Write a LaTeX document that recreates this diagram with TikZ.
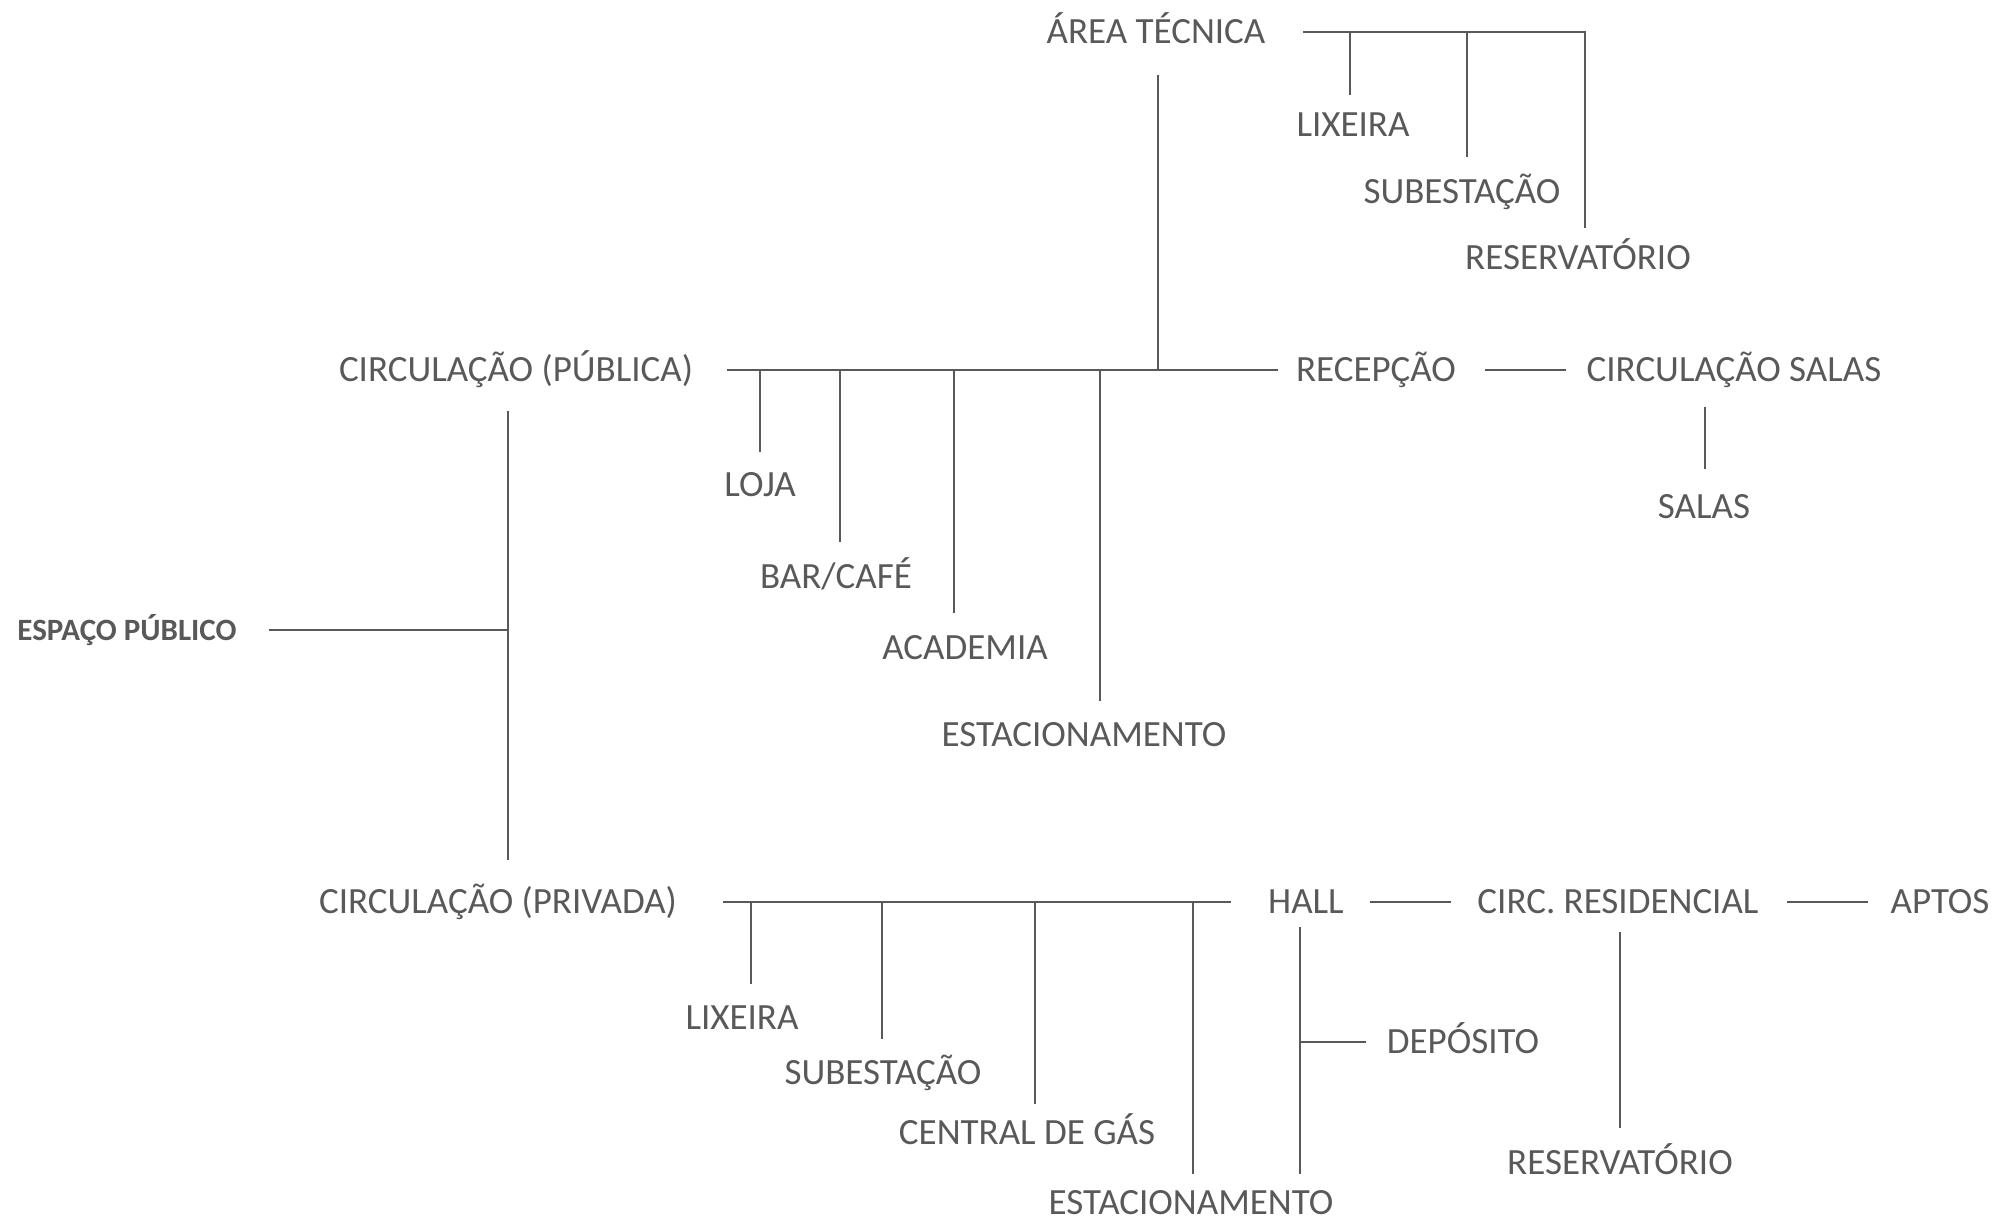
\documentclass[tikz,border=0pt]{standalone}
\usepackage{fontspec}
\setmainfont{Carlito}
\definecolor{ink}{RGB}{89,89,89}
\begin{document}
\begin{tikzpicture}[x=1pt,y=-1pt,
  lbl/.style={anchor=base,inner sep=0pt,text=ink,font=\fontsize{37}{40}\selectfont},
  lblb/.style={anchor=base,inner sep=0pt,text=ink,font=\fontsize{31}{36}\selectfont\bfseries},
  conn/.style={draw=ink,line width=2.2pt}]
\useasboundingbox (0,0) rectangle (1995,1219);
% labels (baseline = cap middle + 11)
\node[lbl] (areatec) at (1156,43) {ÁREA TÉCNICA};
\node[lbl] (lix1) at (1353,136) {LIXEIRA};
\node[lbl] (sub1) at (1462,203) {SUBESTAÇÃO};
\node[lbl] (res1) at (1578,269) {RESERVATÓRIO};
\node[lbl] (circpub) at (516,381) {CIRCULAÇÃO (PÚBLICA)};
\node[lbl] (loja) at (760,496) {LOJA};
\node[lbl] (bar) at (836,588) {BAR/CAFÉ};
\node[lbl] (acad) at (965,659) {ACADEMIA};
\node[lbl] (est1) at (1084,746) {ESTACIONAMENTO};
\node[lbl] (recep) at (1376,381) {RECEPÇÃO};
\node[lbl] (circsalas) at (1734,381) {CIRCULAÇÃO SALAS};
\node[lbl] (salas) at (1704,518) {SALAS};
\node[lblb] (espaco) at (127,640) {ESPAÇO PÚBLICO};
\node[lbl] (circpriv) at (498,913) {CIRCULAÇÃO (PRIVADA)};
\node[lbl] (lix2) at (742,1029) {LIXEIRA};
\node[lbl] (sub2) at (883,1084) {SUBESTAÇÃO};
\node[lbl] (gas) at (1027,1144) {CENTRAL DE GÁS};
\node[lbl] (est2) at (1191,1214) {ESTACIONAMENTO};
\node[lbl] (hall) at (1306,913) {HALL};
\node[lbl] (dep) at (1463,1053) {DEPÓSITO};
\node[lbl] (circres) at (1618,913) {CIRC. RESIDENCIAL};
\node[lbl] (res2) at (1620,1174) {RESERVATÓRIO};
\node[lbl] (aptos) at (1940,913) {APTOS};
% connector points
\coordinate (atL) at (1303,32); \coordinate (atR) at (1585,32);
\coordinate (atA) at (1350,32); \coordinate (atAe) at (1350,95);
\coordinate (atB) at (1467,32); \coordinate (atBe) at (1467,157);
\coordinate (atCe) at (1585,228);
\coordinate (atV) at (1158,75); \coordinate (atJ) at (1158,370);
\coordinate (pL) at (727,370); \coordinate (pR) at (1278,370);
\coordinate (pA) at (760,370); \coordinate (pAe) at (760,452);
\coordinate (pB) at (840,370); \coordinate (pBe) at (840,542);
\coordinate (pC) at (954,370); \coordinate (pCe) at (954,613);
\coordinate (pD) at (1100,370); \coordinate (pDe) at (1100,701);
\coordinate (rcL) at (1485,370); \coordinate (rcR) at (1566,370);
\coordinate (csT) at (1705,407); \coordinate (csB) at (1705,469);
\coordinate (eL) at (269,630); \coordinate (eJ) at (508,630);
\coordinate (vT) at (508,411); \coordinate (vB) at (508,860);
\coordinate (qL) at (723,902); \coordinate (qR) at (1231,902);
\coordinate (qA) at (751,902); \coordinate (qAe) at (751,984);
\coordinate (qB) at (882,902); \coordinate (qBe) at (882,1039);
\coordinate (qC) at (1035,902); \coordinate (qCe) at (1035,1104);
\coordinate (qD) at (1193,902); \coordinate (qDe) at (1193,1174);
\coordinate (hT) at (1300,927); \coordinate (hB) at (1300,1174);
\coordinate (hD) at (1300,1042); \coordinate (hDe) at (1366,1042);
\coordinate (hcL) at (1370,902); \coordinate (hcR) at (1451,902);
\coordinate (crT) at (1620,932); \coordinate (crB) at (1620,1128);
\coordinate (caL) at (1787,902); \coordinate (caR) at (1868,902);
% connectors
\draw[conn] (atL) -- (atR) -- (atCe);
\draw[conn] (atA) -- (atAe);
\draw[conn] (atB) -- (atBe);
\draw[conn] (atV) -- (atJ);
\draw[conn] (pL) -- (pR);
\draw[conn] (pA) -- (pAe);
\draw[conn] (pB) -- (pBe);
\draw[conn] (pC) -- (pCe);
\draw[conn] (pD) -- (pDe);
\draw[conn] (rcL) -- (rcR);
\draw[conn] (csT) -- (csB);
\draw[conn] (eL) -- (eJ);
\draw[conn] (vT) -- (vB);
\draw[conn] (qL) -- (qR);
\draw[conn] (qA) -- (qAe);
\draw[conn] (qB) -- (qBe);
\draw[conn] (qC) -- (qCe);
\draw[conn] (qD) -- (qDe);
\draw[conn] (hT) -- (hB);
\draw[conn] (hD) -- (hDe);
\draw[conn] (hcL) -- (hcR);
\draw[conn] (crT) -- (crB);
\draw[conn] (caL) -- (caR);
\end{tikzpicture}
\end{document}
